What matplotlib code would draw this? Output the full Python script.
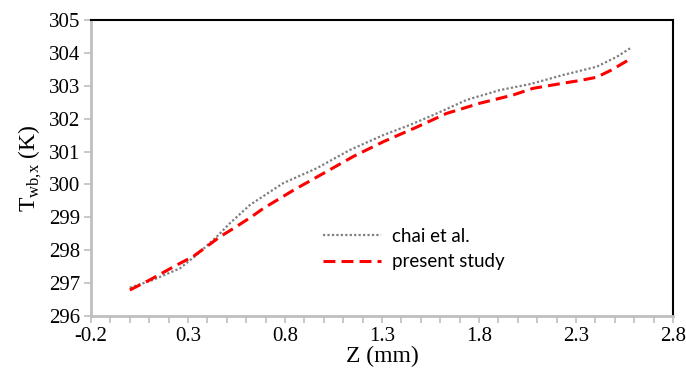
import matplotlib
matplotlib.use('Agg')
import matplotlib.pyplot as plt
import numpy as np
from matplotlib.ticker import MultipleLocator, FixedLocator

# chai et al. (gray dotted)
z_chai = [0.0, 0.121, 0.259, 0.345, 0.448, 0.516, 0.62, 0.791, 0.963, 1.135,
          1.307, 1.444, 1.564, 1.736, 1.908, 2.063, 2.235, 2.407, 2.51, 2.587]
t_chai = [296.86, 297.10, 297.45, 297.86, 298.41, 298.82, 299.38, 300.04, 300.49, 301.05,
          301.50, 301.81, 302.11, 302.57, 302.87, 303.05, 303.33, 303.58, 303.88, 304.17]

# present study (red dashed)
z_pres = [0.0, 0.104, 0.242, 0.327, 0.396, 0.465, 0.542, 0.628, 0.688, 0.845, 0.999,
          1.152, 1.307, 1.478, 1.633, 1.805, 1.976, 2.077, 2.235, 2.32, 2.407, 2.483, 2.578]
t_pres = [296.79, 297.10, 297.55, 297.81, 298.11, 298.41, 298.69, 299.02, 299.27, 299.83, 300.34,
          300.85, 301.30, 301.74, 302.16, 302.47, 302.72, 302.92, 303.08, 303.16, 303.26, 303.48, 303.81]

x_ticks = [-0.2, 0.3, 0.8, 1.3, 1.8, 2.3, 2.8]

fig = plt.figure(figsize=(6.86, 3.76), dpi=100)
ax = fig.add_axes([91/686, 1 - 316/376, 582/686, 296/376])

ax.plot(z_chai, t_chai, color='#7f7f7f', linestyle=(0, (1, 1)), linewidth=1.6, label='chai et al.')
ax.plot(z_pres, t_pres, color='#ff0000', linestyle=(0, (3.9, 2.0)), linewidth=2.2, label='present study')

ax.set_xlim(-0.2, 2.8)
ax.set_ylim(296, 305)
ax.xaxis.set_major_locator(FixedLocator(x_ticks))
ax.xaxis.set_minor_locator(MultipleLocator(0.1))
ax.yaxis.set_major_locator(MultipleLocator(1))

for s in ['left', 'bottom']:
    ax.spines[s].set_color('#bfbfbf')
    ax.spines[s].set_linewidth(2.0)
for s in ['top', 'right']:
    ax.spines[s].set_color('black')
    ax.spines[s].set_linewidth(1.5)

ax.tick_params(which='both', direction='out', color='#bfbfbf', width=1.2, length=5,
               labelsize=15, pad=3)
ax.set_xticklabels(['{:g}'.format(v) for v in x_ticks])
for lab in ax.get_xticklabels() + ax.get_yticklabels():
    lab.set_fontfamily('Liberation Serif')

ax.set_xlabel('Z (mm)', fontsize=17, family='Liberation Serif', labelpad=0)
ax.set_ylabel(r'T$_{\mathregular{wb{,}x}}$ (K)', fontsize=17, family='Liberation Serif', labelpad=3)

leg = ax.legend(loc='upper left', bbox_to_anchor=(0.37, 0.355), frameon=False,
                prop={'family': 'Lato', 'size': 13.5}, handlelength=3.1,
                handletextpad=0.55, labelspacing=0.45)

fig.savefig('out.png', dpi=100)
